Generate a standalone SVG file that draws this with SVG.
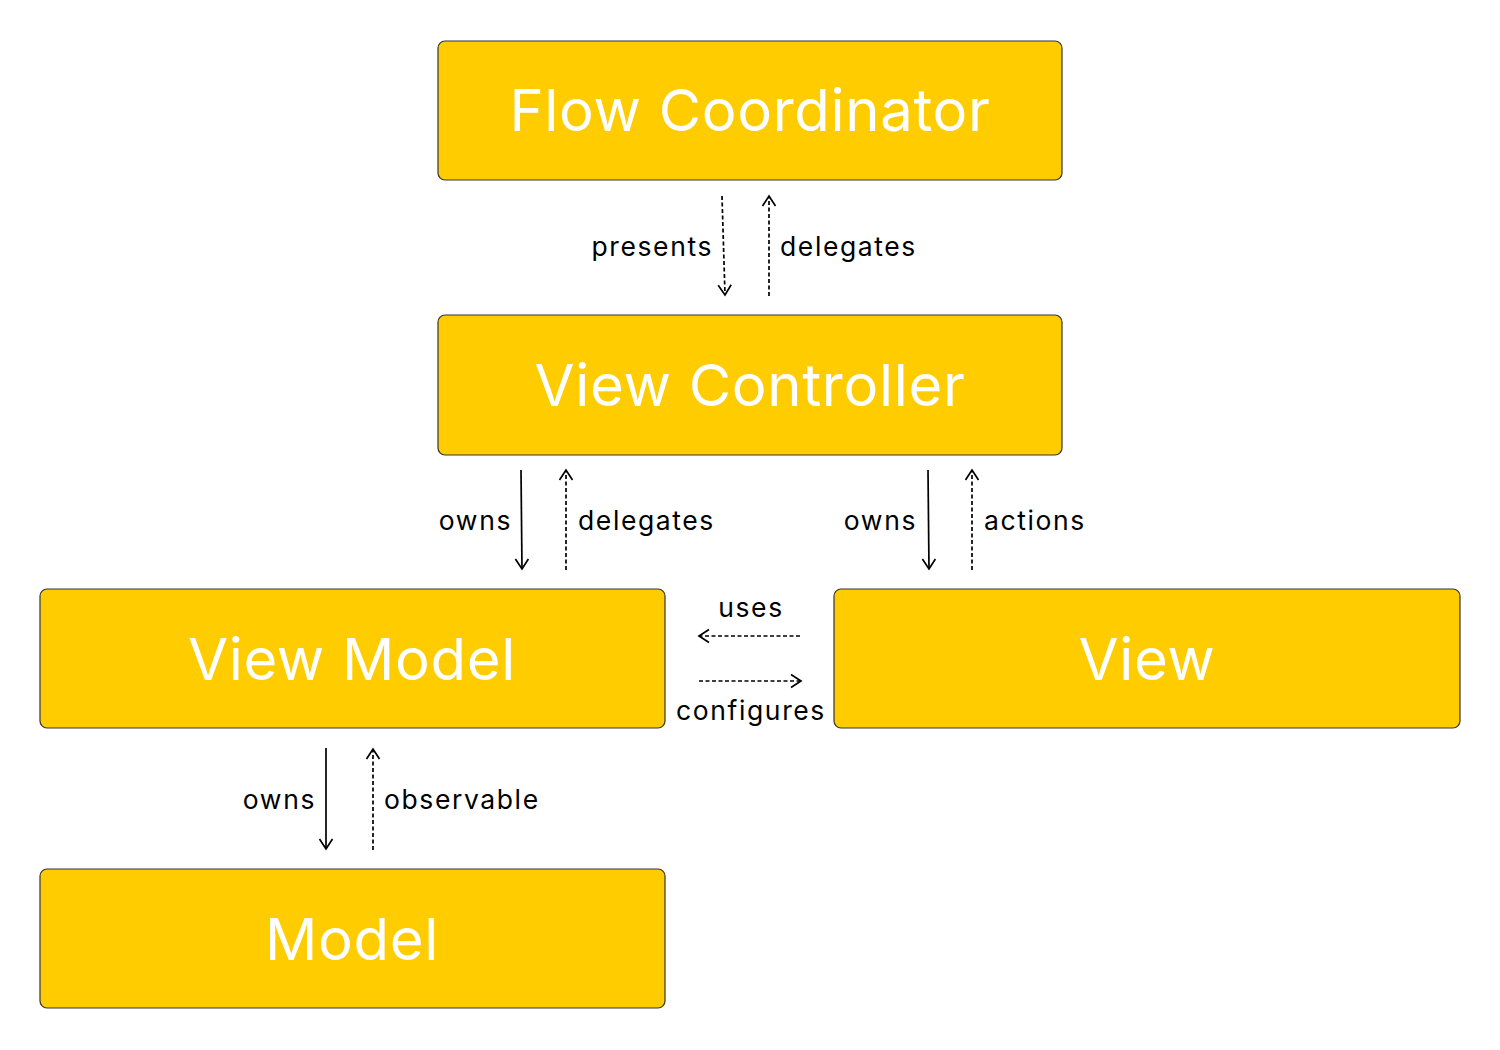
<svg xmlns="http://www.w3.org/2000/svg" width="1500" height="1050" viewBox="0 0 1500 1050">
<style>
.box{fill:#FFCC00;stroke:#333;stroke-width:1.2}
.title{font-family:Inter,"Noto Sans",sans-serif;font-size:58px;fill:#fff;text-anchor:middle;letter-spacing:0.7px}
.lbl{font-family:Inter,"Noto Sans",sans-serif;font-size:26.5px;fill:#000;letter-spacing:1.6px}
.solid{stroke:#000;stroke-width:1.7;fill:none;marker-end:url(#ah)}
.dash{stroke:#000;stroke-width:1.7;fill:none;stroke-dasharray:4 2.5;marker-end:url(#ah)}
</style>
<defs>
<marker id="ah" viewBox="0 0 20 20" refX="11" refY="10" markerWidth="20" markerHeight="20" markerUnits="userSpaceOnUse" orient="auto">
<path d="M1,3.5 L11,10 L1,16.5" fill="none" stroke="#000" stroke-width="1.7"/>
</marker>
</defs>
<rect width="1500" height="1050" fill="#fff"/>
<g id="flow-coordinator"><rect class="box" x="438" y="41" width="624" height="139" rx="7"/><text class="title" x="750" y="131">Flow Coordinator</text></g>
<g id="view-controller"><rect class="box" x="438" y="315" width="624" height="140" rx="7"/><text class="title" x="750" y="406">View Controller</text></g>
<g id="view-model"><rect class="box" x="40" y="589" width="625" height="139" rx="7"/><text class="title" x="352" y="680">View Model</text></g>
<g id="view"><rect class="box" x="834" y="589" width="626" height="139" rx="7"/><text class="title" x="1147" y="680">View</text></g>
<g id="model"><rect class="box" x="40" y="869" width="625" height="139" rx="7"/><text class="title" x="352" y="960">Model</text></g>
<g id="connectors">
<path class="dash" d="M722,196 L725,295"/>
<path class="dash" d="M769,296 L769,196"/>
<path class="solid" d="M521,470 L522,569"/>
<path class="dash" d="M566,570 L566,470"/>
<path class="solid" d="M928,470 L929,569"/>
<path class="dash" d="M972,570 L972,470"/>
<path class="dash" d="M800,636 L699,636"/>
<path class="dash" d="M699,681 L801,681"/>
<path class="solid" d="M326,748 L326,849"/>
<path class="dash" d="M373,850 L373,749"/>
<text class="lbl" x="713" y="256" text-anchor="end">presents</text>
<text class="lbl" x="780" y="256">delegates</text>
<text class="lbl" x="512" y="530" text-anchor="end">owns</text>
<text class="lbl" x="578" y="530">delegates</text>
<text class="lbl" x="917" y="530" text-anchor="end">owns</text>
<text class="lbl" x="984" y="530">actions</text>
<text class="lbl" x="751" y="617" text-anchor="middle">uses</text>
<text class="lbl" x="751" y="720" text-anchor="middle">configures</text>
<text class="lbl" x="316" y="809" text-anchor="end">owns</text>
<text class="lbl" x="384" y="809">observable</text>
</g>
</svg>
